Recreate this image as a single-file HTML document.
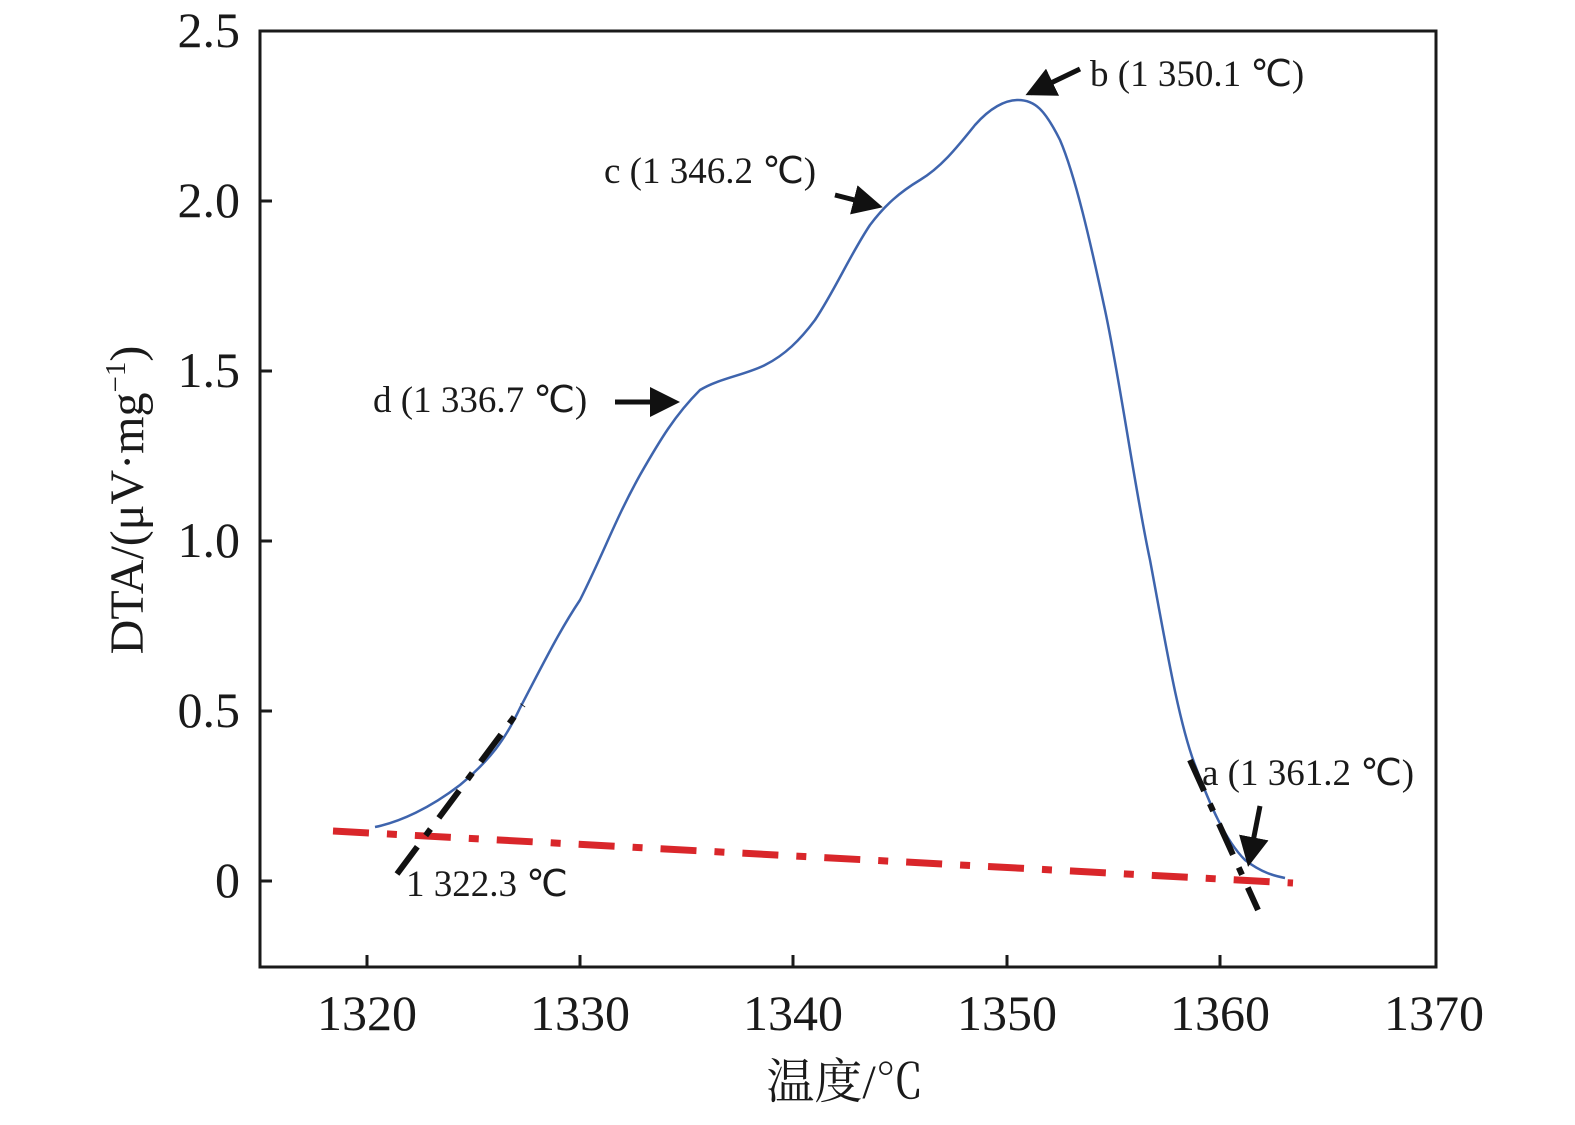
<!DOCTYPE html>
<html><head><meta charset="utf-8"><style>
body{margin:0;background:#fff;}
svg text{font-family:"Liberation Serif","Times New Roman",serif;fill:#1a1a1a;}
svg text.cjk{font-family:"Liberation Serif","Noto Serif CJK SC",serif;}
</style></head><body>
<svg width="1575" height="1120" viewBox="0 0 1575 1120">
<defs><marker id="ah" markerWidth="6" markerHeight="6" refX="5" refY="3" orient="auto" markerUnits="strokeWidth"><path d="M0,0 L6,3 L0,6 Z" fill="#111"/></marker></defs>
<rect x="260" y="31" width="1176" height="936" fill="none" stroke="#1a1a1a" stroke-width="3"/>
<g stroke="#1a1a1a" stroke-width="3">
<line x1="367" y1="967" x2="367" y2="955"/><line x1="580" y1="967" x2="580" y2="955"/><line x1="793" y1="967" x2="793" y2="955"/><line x1="1007" y1="967" x2="1007" y2="955"/><line x1="1220" y1="967" x2="1220" y2="955"/>
<line x1="260" y1="881" x2="272" y2="881"/><line x1="260" y1="711" x2="272" y2="711"/><line x1="260" y1="541" x2="272" y2="541"/><line x1="260" y1="371" x2="272" y2="371"/><line x1="260" y1="201" x2="272" y2="201"/>
</g>
<g font-size="50" text-anchor="middle">
<text x="367" y="1030">1320</text><text x="580" y="1030">1330</text><text x="793" y="1030">1340</text><text x="1007" y="1030">1350</text><text x="1220" y="1030">1360</text><text x="1434" y="1030">1370</text>
</g>
<g font-size="50" text-anchor="end">
<text x="240" y="897">0</text><text x="240" y="727">0.5</text><text x="240" y="557">1.0</text><text x="240" y="387">1.5</text><text x="240" y="217">2.0</text><text x="240" y="47">2.5</text>
</g>
<text class="cjk" x="845" y="1098" font-size="48" text-anchor="middle">温度/℃</text>
<text transform="translate(143,500) rotate(-90)" font-size="48" text-anchor="middle">DTA/(μV·mg<tspan font-size="29" dy="-18">−1</tspan><tspan dy="18">)</tspan></text>
<line x1="333" y1="831" x2="1293" y2="883" stroke="#d9262a" stroke-width="7" stroke-dasharray="36,18,10,18"/>
<path d="M375,827 C400,822 430,808 460,785 C490,760 505,740 520,708 C545,660 560,630 580,600 C605,550 615,520 640,475 C660,440 675,415 700,390 C720,378 745,375 765,365 C785,355 800,340 815,320 C835,290 850,255 870,225 C885,205 900,192 920,180 C940,168 955,150 975,125 C990,108 1005,100 1018,100 C1035,100 1045,110 1060,140 C1075,175 1090,240 1105,310 C1120,380 1135,490 1150,560 C1165,640 1178,720 1195,765 C1210,805 1225,840 1245,860 C1262,873 1275,876 1285,878" fill="none" stroke="#3e64ad" stroke-width="2.5"/>
<g stroke="#111" stroke-width="6" stroke-dasharray="34,14,8,14">
<line x1="397" y1="874" x2="523" y2="705"/>
<line x1="1190" y1="760" x2="1258" y2="910"/>
</g>
<g stroke="#111" stroke-width="5" marker-end="url(#ah)">
<line x1="1080" y1="69" x2="1030" y2="93"/>
<line x1="835" y1="195" x2="878" y2="206"/>
<line x1="615" y1="402" x2="675" y2="402"/>
<line x1="1260" y1="806" x2="1249" y2="862"/>
</g>
<g font-size="37">
<text x="1090" y="86">b (1 350.1 ℃)</text>
<text x="604" y="183">c (1 346.2 ℃)</text>
<text x="373" y="412">d (1 336.7 ℃)</text>
<text x="1202" y="785">a (1 361.2 ℃)</text>
<text x="406" y="896">1 322.3 ℃</text>
</g>
</svg>
</body></html>
